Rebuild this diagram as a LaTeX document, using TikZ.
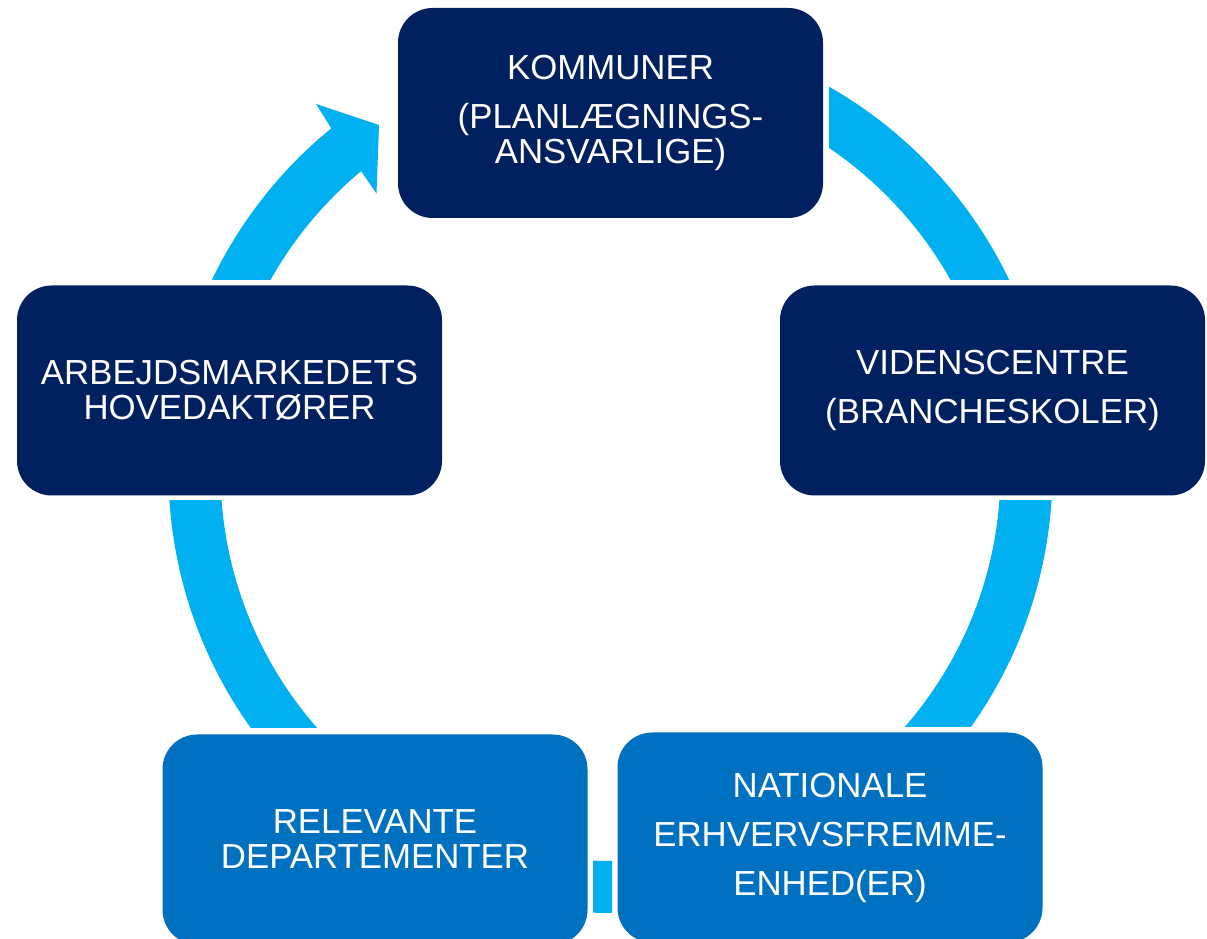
\documentclass[tikz,border=0pt]{standalone}
\usepackage{fontspec}
\setmainfont{Liberation Sans}
\usetikzlibrary{calc}
\definecolor{navy}{HTML}{002060}
\definecolor{midblue}{HTML}{0070C0}
\definecolor{ringblue}{HTML}{00B0F0}
\begin{document}
\begin{tikzpicture}[x=0.75pt,y=0.75pt,
  box/.style={rectangle, rounded corners=26pt, minimum width=318.75pt, minimum height=157.5pt,
    inner sep=0pt, text=white, align=center, font=\fontsize{26.1}{26.25}\selectfont},
  darkbox/.style={box, fill=navy},
  midbox/.style={box, fill=midblue},
  ring/.style={fill=ringblue}]
\useasboundingbox (0,0) rectangle (1207,939);
\coordinate (ctr) at (610.5,468);
% ring segments
\begin{scope}
  \clip (829,659) rectangle (1207,939);
  \fill[ring, even odd rule] (ctr) circle[radius=442] (ctr) circle[radius=390];
\end{scope}
\begin{scope}
  \clip (700,212) rectangle (1207,438);
  \fill[ring, even odd rule] (ctr) circle[radius=442] (ctr) circle[radius=390];
\end{scope}
\begin{scope}
  \clip (593,0) rectangle (612,139);
  \fill[ring, even odd rule] (ctr) circle[radius=442] (ctr) circle[radius=390];
\end{scope}
\begin{scope}
  \clip (0,211) rectangle (500,438);
  \fill[ring, even odd rule] (ctr) circle[radius=442] (ctr) circle[radius=390];
\end{scope}
% arrow segment
\begin{scope}
  \clip (0,659) rectangle (1207,939);
  \coordinate (owing) at (316,835);
  \coordinate (tip) at (379,814);
  \coordinate (iwing) at (376.5,745.5);
  \fill[ring] ($(ctr)+(165:442)$) arc[start angle=165, end angle=129.17, radius=442]
    -- (owing) -- (tip) -- (iwing) -- ($(ctr)+(129.75:390)$)
    arc[start angle=129.75, end angle=165, radius=390] -- cycle;
\end{scope}
% boxes
\node[darkbox] (komm) at (610.5,826) {KOMMUNER\\[10.5pt](PLANLÆGNINGS-\\ANSVARLIGE)};
\node[darkbox] (viden) at (992.5,548.5) {VIDENSCENTRE\\[10.5pt](BRANCHESKOLER)};
\node[midbox] (nat) at (830,101.5) {NATIONALE\\[10.5pt]ERHVERVSFREMME-\\[10.5pt]ENHED(ER)};
\node[midbox] (rel) at (375,99.5) {RELEVANTE\\DEPARTEMENTER};
\node[darkbox] (arb) at (229.5,548.5) {ARBEJDSMARKEDETS\\HOVEDAKTØRER};
\end{tikzpicture}
\end{document}
